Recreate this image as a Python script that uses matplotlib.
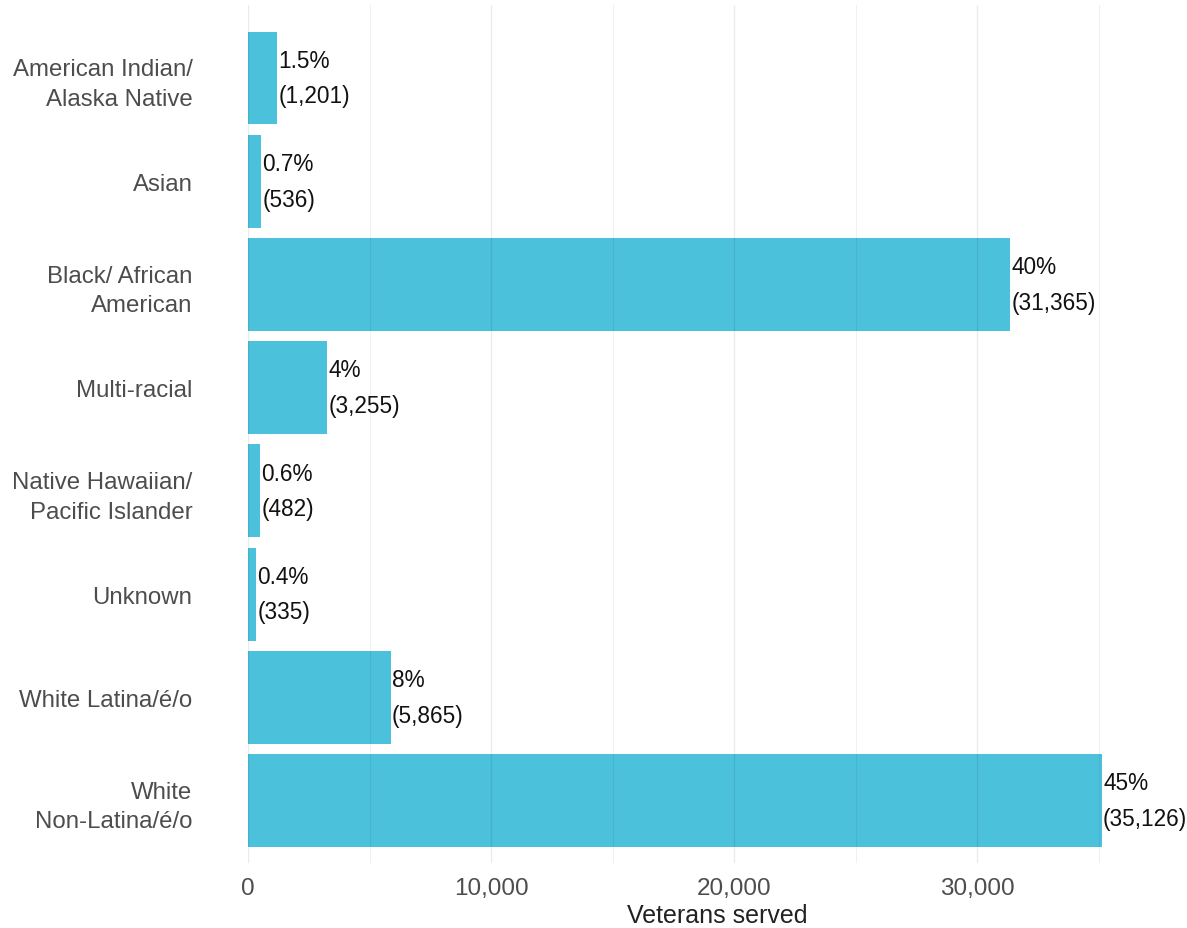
import matplotlib
matplotlib.use("Agg")
import matplotlib.pyplot as plt
from matplotlib.ticker import FuncFormatter, MultipleLocator

categories = [
    "American Indian/\nAlaska Native",
    "Asian",
    "Black/ African\nAmerican",
    "Multi-racial",
    "Native Hawaiian/\nPacific Islander",
    "Unknown",
    "White Latina/é/o",
    "White\nNon-Latina/é/o",
]
veterans = [1201, 536, 31365, 3255, 482, 335, 5865, 35126]
percent_labels = ["1.5%", "0.7%", "40%", "4%", "0.6%", "0.4%", "8%", "45%"]
x_ticks = [0, 10000, 20000, 30000]

plt.rcParams["font.family"] = ["Liberation Sans", "DejaVu Sans"]

fig = plt.figure(figsize=(11.87, 9.29), dpi=100)
W, H = 1187, 929
left, right = 248, 1187
top, bottom = 6, 864
ax = fig.add_axes([left / W, 1 - bottom / H, (right - left) / W, (bottom - top) / H])

bar_color = "#4cc1dc"
ypos = list(range(len(categories)))
ax.barh(ypos, veterans, height=0.9, color=bar_color, zorder=2)

for y, v, p in zip(ypos, veterans, percent_labels):
    ax.text(v + 60, y, f"{p}\n({v:,})", ha="left", va="center",
            fontsize=16.3, color="#111111", linespacing=1.7, zorder=4)

ax.set_xlim(0, 38640)
ax.set_ylim(len(categories) - 1 + 0.605, -0.707)

ax.set_yticks(ypos)
ax.set_yticklabels(categories, fontsize=17.3, color="#4d4d4d", linespacing=1.42)
ax.set_xticks(x_ticks)
ax.xaxis.set_minor_locator(MultipleLocator(5000))
ax.xaxis.set_major_formatter(FuncFormatter(lambda v, _: f"{int(v):,}"))
ax.tick_params(axis="x", labelsize=17.5, labelcolor="#4d4d4d", length=0, pad=10)
ax.tick_params(axis="y", length=0, pad=40)
ax.tick_params(which="minor", length=0)

# faint grid drawn over the bars as a translucent line
ax.grid(axis="x", which="major", color="black", alpha=0.08, linewidth=1.0, zorder=3)
ax.grid(axis="x", which="minor", color="black", alpha=0.06, linewidth=0.8, zorder=3)
ax.grid(axis="y", visible=False)
ax.set_axisbelow(False)
for s in ax.spines.values():
    s.set_visible(False)

ax.set_xlabel("Veterans served", fontsize=18, color="#222222", labelpad=3)

fig.savefig("out.png", dpi=100)
